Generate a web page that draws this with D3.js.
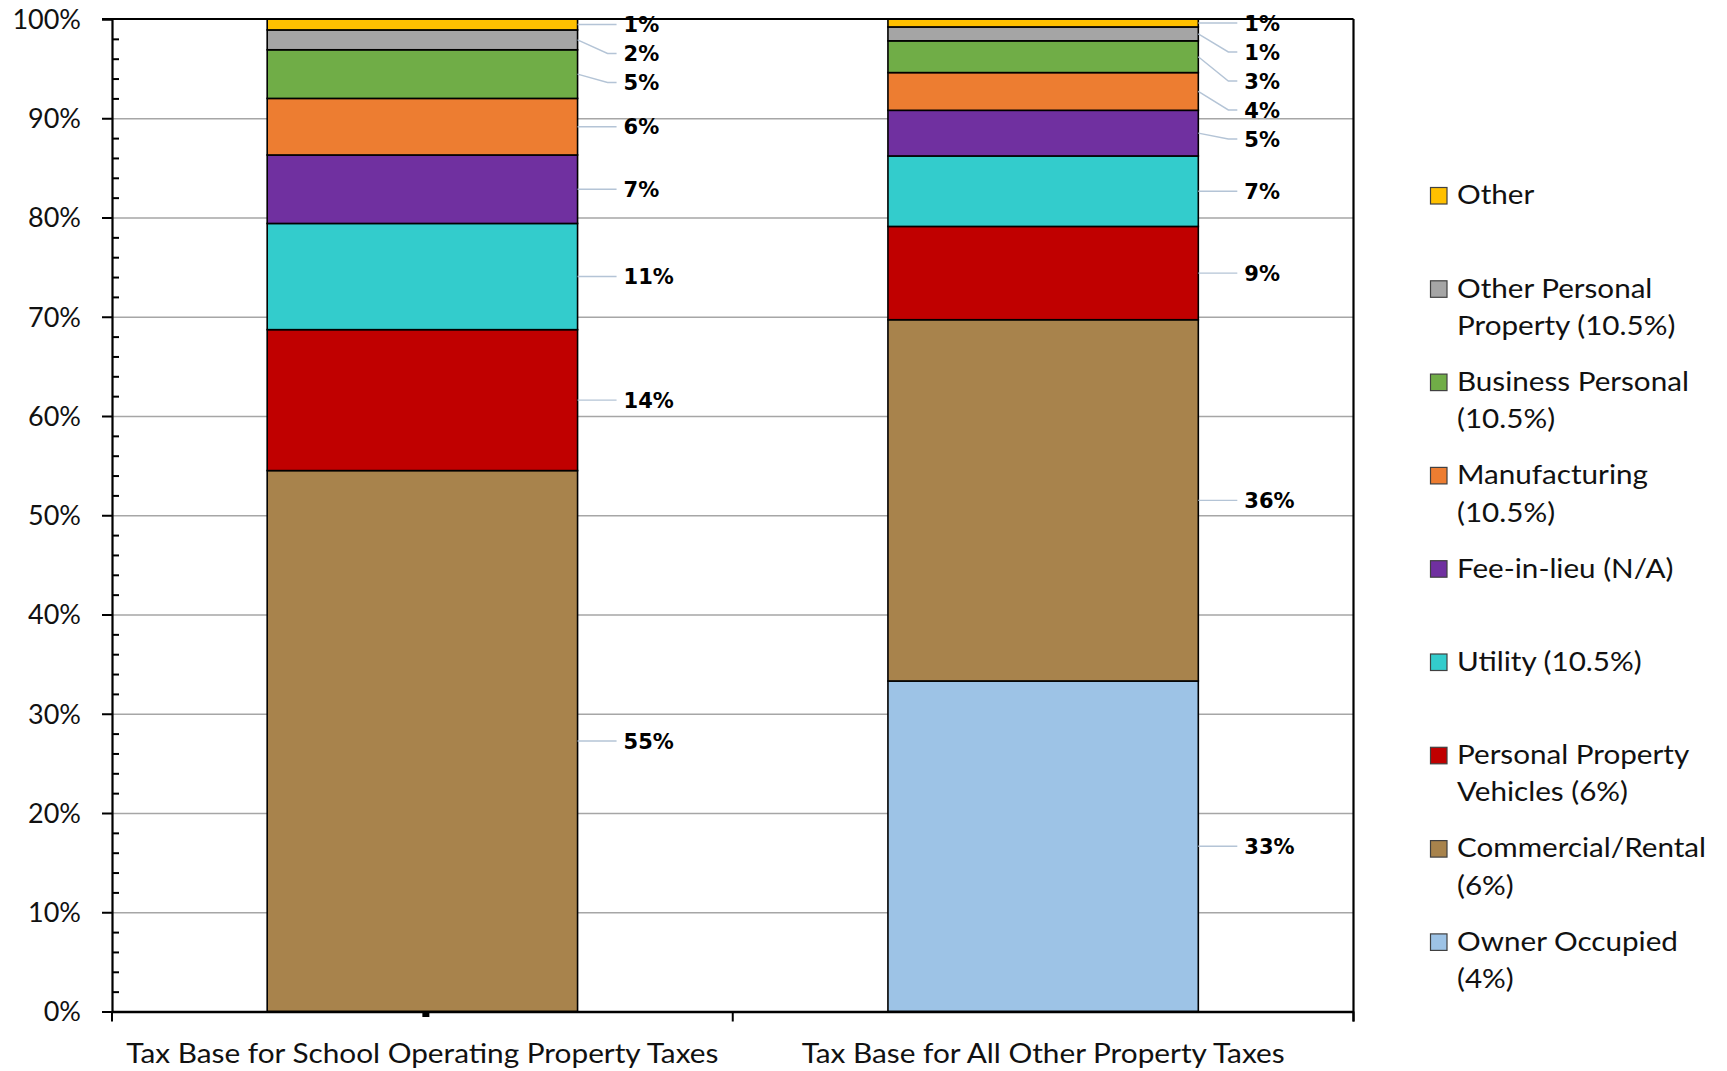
<!DOCTYPE html>
<html><head><meta charset="utf-8">
<script src="https://cdn.jsdelivr.net/npm/d3@7"></script>
<style>html,body{margin:0;padding:0;background:#fff;} svg{display:block;}</style>
</head><body>
<svg id="chart" width="1727" height="1071"></svg>
<script>
// ---------- data ----------
const categories = ["Tax Base for School Operating Property Taxes", "Tax Base for All Other Property Taxes"];
const seriesKeys = ["ownerOccupied", "commercialRental", "personalPropertyVehicles", "utility", "feeInLieu", "manufacturing", "businessPersonal", "otherPersonalProperty", "other"];
const seriesNames = ["Owner Occupied (4%)", "Commercial/Rental (6%)", "Personal Property Vehicles (6%)", "Utility (10.5%)", "Fee-in-lieu (N/A)", "Manufacturing (10.5%)", "Business Personal (10.5%)", "Other Personal Property (10.5%)", "Other"];
const legendLines = [["Owner Occupied", "(4%)"], ["Commercial/Rental", "(6%)"], ["Personal Property", "Vehicles (6%)"], ["Utility (10.5%)"], ["Fee-in-lieu (N/A)"], ["Manufacturing", "(10.5%)"], ["Business Personal", "(10.5%)"], ["Other Personal", "Property (10.5%)"], ["Other"]];
const ownerOccupied = [0, 33.3];
const commercialRental = [54.5, 36.4];
const personalPropertyVehicles = [14.2, 9.4];
const utility = [10.7, 7.1];
const feeInLieu = [6.9, 4.6];
const manufacturing = [5.7, 3.8];
const businessPersonal = [4.9, 3.2];
const otherPersonalProperty = [2.0, 1.4];
const other = [1.1, 0.8];
const yTickValues = [0, 10, 20, 30, 40, 50, 60, 70, 80, 90, 100];
const seriesColors = ["#9dc3e6", "#a8834c", "#c00000", "#33cccc", "#7030a0", "#ed7d31", "#70ad47", "#a5a5a5", "#ffc000"];

// ---------- layout ----------
const plotLeft = 112, plotRight = 1353.5, plotTop = 19, plotBottom = 1011.5;
const svg = d3.select("#chart");

const seriesValues = {ownerOccupied, commercialRental, personalPropertyVehicles, utility, feeInLieu, manufacturing, businessPersonal, otherPersonalProperty, other};
const rows = categories.map((c, i) => {
  const r = {category: c};
  seriesKeys.forEach(k => r[k] = seriesValues[k][i]);
  return r;
});
const stacked = d3.stack().keys(seriesKeys).offset(d3.stackOffsetExpand)(rows);

const x = d3.scaleBand().domain(categories).range([plotLeft, plotRight]).paddingInner(0.5).paddingOuter(0.25);
const y = d3.scaleLinear().domain([0, 1]).range([plotBottom, plotTop]);
const yPct = d3.scaleLinear().domain([0, 100]).range([plotBottom, plotTop]);
const color = d3.scaleOrdinal().domain(seriesKeys).range(seriesColors);

// gridlines
svg.append("g").attr("transform", `translate(${plotLeft},0)`)
  .call(d3.axisLeft(yPct).tickValues(yTickValues.filter(v => v > 0 && v < 100)).tickSize(-(plotRight - plotLeft)).tickFormat(""))
  .call(g => g.select(".domain").remove())
  .call(g => g.selectAll("line").attr("stroke", "#a6a6a6").attr("stroke-width", 1.6));

// bars
const layer = svg.append("g").selectAll("g").data(stacked).join("g")
  .attr("fill", d => color(d.key));
layer.selectAll("rect").data(d => d.filter(p => p[1] - p[0] > 0)).join("rect")
  .attr("x", d => x(d.data.category))
  .attr("width", x.bandwidth())
  .attr("y", d => y(d[1]))
  .attr("height", d => y(d[0]) - y(d[1]))
  .attr("stroke", "#000").attr("stroke-width", 1.6);

// top border and right border
svg.append("line").attr("x1", plotLeft - 10).attr("x2", plotRight).attr("y1", yPct(100)).attr("y2", yPct(100))
  .attr("stroke", "#000").attr("stroke-width", 2.2);
svg.append("line").attr("x1", plotRight).attr("x2", plotRight).attr("y1", plotTop).attr("y2", plotBottom + 10)
  .attr("stroke", "#000").attr("stroke-width", 2.2);

// y axis (major ticks outside)
const fontTick = "Lato, 'Open Sans', sans-serif";
svg.append("g").attr("transform", `translate(${plotLeft},0)`)
  .call(d3.axisLeft(yPct).tickValues(yTickValues).tickFormat(d => d + "%").tickSize(10).tickPadding(21))
  .call(g => g.select(".domain").attr("stroke", "#000").attr("stroke-width", 2.2))
  .call(g => g.selectAll(".tick line").attr("stroke", "#000").attr("stroke-width", 2))
  .call(g => g.selectAll("text").attr("font-family", fontTick).attr("font-size", 27).attr("fill", "#111").attr("dy", "0.35em"));

// minor ticks (inside)
const minorTicks = d3.range(0, 101, 2).filter(v => v % 10 !== 0);
svg.append("g").attr("transform", `translate(${plotLeft},0)`)
  .call(d3.axisRight(yPct).tickValues(minorTicks).tickSize(7).tickFormat(""))
  .call(g => g.select(".domain").remove())
  .call(g => g.selectAll(".tick line").attr("stroke", "#000").attr("stroke-width", 2));

// x axis
svg.append("g").attr("transform", `translate(0,${plotBottom})`)
  .call(d3.axisBottom(x).tickSize(0).tickPadding(0))
  .call(g => g.select(".domain").attr("stroke", "#000").attr("stroke-width", 2.6))
  .call(g => g.selectAll("text").attr("font-family", fontTick).attr("font-size", 26).attr("fill", "#111")
    .attr("y", 0).attr("dy", 0).attr("transform", "translate(0,51) scale(1.145,1)"));
// category boundary ticks
const boundaries = d3.range(categories.length + 1).map(k => plotLeft + k * x.step());
svg.append("g").selectAll("line").data(boundaries).join("line")
  .attr("x1", d => d).attr("x2", d => d).attr("y1", plotBottom).attr("y2", plotBottom + 10)
  .attr("stroke", "#000").attr("stroke-width", 2);
// small mark under first bar
svg.append("rect").attr("x", x(categories[0]) + x.bandwidth() / 2).attr("y", plotBottom + 1.5)
  .attr("width", 7).attr("height", 4).attr("fill", "#000");

// data labels with leader lines
const labelFont = "'DejaVu Sans', Verdana, sans-serif";
const labelG = svg.append("g");
categories.forEach((cat, ci) => {
  const edge = x(cat) + x.bandwidth();
  const items = [];
  for (let s = stacked.length - 1; s >= 0; s--) {
    const p = stacked[s][ci];
    const raw = seriesValues[stacked[s].key][ci];
    if (raw <= 0) continue;
    items.push({center: y((p[0] + p[1]) / 2), raw});
  }
  let prev = -Infinity;
  items.forEach(it => {
    it.ly = Math.max(it.center, prev + 29);
    prev = it.ly;
    const path = (it.ly - it.center > 3)
      ? `M${edge},${it.center}L${edge + 30},${it.ly}L${edge + 39},${it.ly}`
      : `M${edge},${it.center}L${edge + 39},${it.center}`;
    labelG.append("path").attr("d", path).attr("fill", "none").attr("stroke", "#b4c4d6").attr("stroke-width", 1.4);
    labelG.append("text").attr("x", edge + 46).attr("y", it.ly).attr("dy", "0.36em")
      .attr("font-family", labelFont).attr("font-weight", "bold").attr("font-size", 21).attr("fill", "#000")
      .text(Math.round(it.raw) + "%");
  });
});

// legend (top to bottom: reverse stack order)
const legendG = svg.append("g");
const order = d3.range(seriesKeys.length).reverse();
order.forEach((si, i) => {
  const cy = 195 + i * 93.3;
  legendG.append("rect").attr("x", 1430.5).attr("y", cy - 7.5).attr("width", 16.5).attr("height", 16.5)
    .attr("fill", seriesColors[si]).attr("stroke", "#404040").attr("stroke-width", 1.2);
  legendLines[si].forEach((ln, li) => {
    legendG.append("text").attr("transform", `translate(1457,${cy + 9.3 + li * 37.3}) scale(1.14,1)`)
      .attr("font-family", fontTick).attr("font-size", 26).attr("fill", "#111").text(ln);
  });
});
</script>
</body></html>
